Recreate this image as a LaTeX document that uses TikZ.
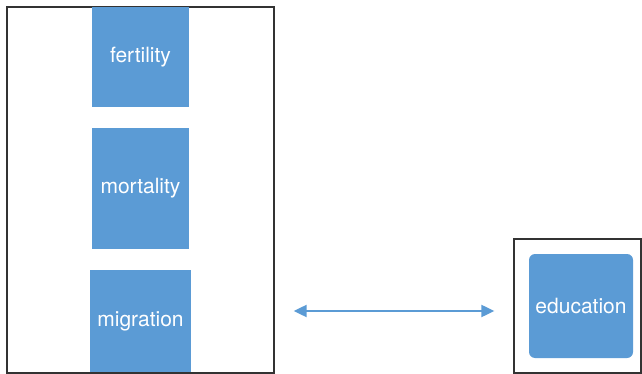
\documentclass[tikz,border=0pt]{standalone}
\usepackage{fontspec}
\setmainfont{TeX Gyre Heros}
\usetikzlibrary{arrows.meta}
\definecolor{boxblue}{HTML}{5B9BD5}
\tikzset{link/.style={draw=boxblue, line width=2pt, {Triangle[length=13pt,width=12pt]}-{Triangle[length=13pt,width=12pt]}}}

\begin{document}
\begin{tikzpicture}[x=1pt, y=-1pt]
\tikzstyle{block} = [rectangle, fill=boxblue, text=white, font=\fontsize{21}{25}\selectfont, inner sep=0pt]
\tikzstyle{frame} = [rectangle, draw=black!80, line width=1.3pt, inner sep=0pt]

\useasboundingbox (0,0) rectangle (642,374);

\node [frame, minimum width=267pt, minimum height=366pt] (demo) at (140.5,190) {};
\node [block, minimum width=97pt, minimum height=100pt] (fert) at (140.5,57) {fertility};
\node [block, minimum width=97pt, minimum height=121pt] (mort) at (140.5,188.5) {mortality};
\node [block, minimum width=101pt, minimum height=102pt] (migr) at (140.5,321) {migration};

\node [frame, minimum width=127pt, minimum height=134pt] (eduframe) at (577.5,306) {};
\node [block, rounded corners=6pt, minimum width=104pt, minimum height=104pt] (edu) at (581,306) {education};

\coordinate (arrowend) at ([yshift=-5pt]eduframe.west);
\path [link, shorten <=19pt, shorten >=19pt] (demo.east |- arrowend) -- (arrowend);

\end{tikzpicture}
\end{document}
